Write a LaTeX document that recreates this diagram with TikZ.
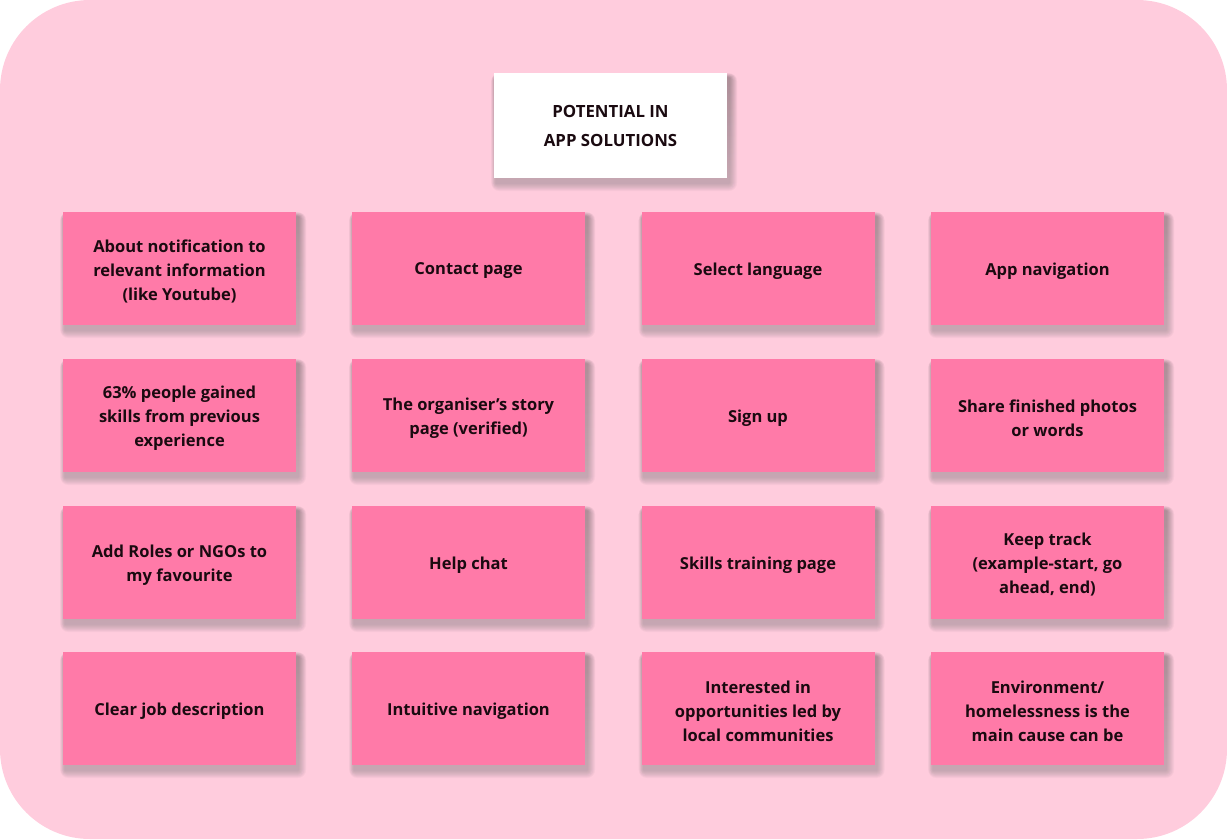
\documentclass[tikz,border=0pt]{standalone}
\usepackage{fontspec}
\setmainfont{Open Sans}
\definecolor{bgpink}{HTML}{FFCCDD}
\definecolor{notepink}{HTML}{FF7AA8}
\definecolor{ink}{HTML}{1A0A10}
\definecolor{shade}{HTML}{9A4A68}
\tikzset{
  note/.style={fill=notepink, minimum width=233pt, minimum height=113pt, inner sep=0pt},
  notetext/.style={align=center, text=ink, inner sep=0pt, font=\fontsize{16.5}{24}\selectfont\bfseries},
  titlebox/.style={fill=white, minimum width=233pt, minimum height=105pt, inner sep=0pt,
    align=center, text=ink, font=\fontsize{16.8}{29}\selectfont\bfseries},
}
\newcommand{\shadowat}[4]{% x1 y1 x2 y2 (top-left, bottom-right)
  \foreach \d in {8,7,6,5,4,3,2,1}{
    \fill[shade, opacity=0.03, rounded corners=\d pt] ({#1+2-\d*0.6},{#2+5-\d*0.6}) rectangle ({#3+2+\d},{#4+5+\d});
  }
}
\newcommand{\stickynote}[4]{% name x y text
  \shadowat{#2-116.5}{#3-56.5}{#2+116.5}{#3+56.5}
  \node[note] (#1) at (#2,#3) {};
  \node[notetext] (#1-t) at ([yshift=-2.5pt]#1.center) {#4};
}
\begin{document}
\begin{tikzpicture}[x=1pt,y=-1pt]
\useasboundingbox (0,0) rectangle (1227,839);
\fill[bgpink, rounded corners=90pt] (0,0) rectangle (1227,839);
% title
\shadowat{494}{73}{727}{178}
\node[titlebox] (title) at (610.5,125.5) {POTENTIAL IN\\APP SOLUTIONS};
% notes
\stickynote{n11}{179.5}{268.5}{About notification to\\relevant information\\(like Youtube)}
\stickynote{n12}{468.5}{268.5}{Contact page}
\stickynote{n13}{758}{268.5}{Select language}
\stickynote{n14}{1047.5}{268.5}{App navigation}
\stickynote{n21}{179.5}{415.5}{63\% people gained\\skills from previous\\experience}
\stickynote{n22}{468.5}{415.5}{The organiser’s story\\page (verified)}
\stickynote{n23}{758}{415.5}{Sign up}
\stickynote{n24}{1047.5}{415.5}{Share finished photos\\or words}
\stickynote{n31}{179.5}{562.5}{Add Roles or NGOs to\\my favourite}
\stickynote{n32}{468.5}{562.5}{Help chat}
\stickynote{n33}{758}{562.5}{Skills training page}
\stickynote{n34}{1047.5}{562.5}{Keep track\\(example-start, go\\ahead, end)}
\stickynote{n41}{179.5}{708.5}{Clear job description}
\stickynote{n42}{468.5}{708.5}{Intuitive navigation}
\stickynote{n43}{758}{708.5}{Interested in\\opportunities led by\\local communities}
\stickynote{n44}{1047.5}{708.5}{Environment/\\homelessness is the\\main cause can be}
\end{tikzpicture}
\end{document}
